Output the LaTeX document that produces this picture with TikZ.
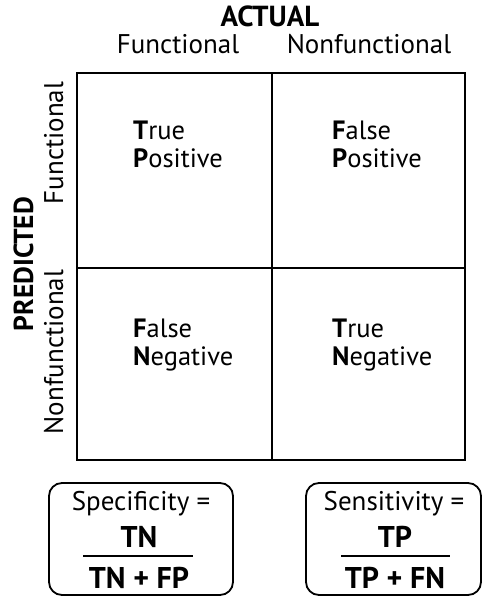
\documentclass[tikz,border=0pt]{standalone}
\usepackage{fontspec}
\setmainfont{PT Sans}
\begin{document}
\begin{tikzpicture}[x=1pt,y=-1pt,
  lbl/.style={inner sep=0pt,font=\fontsize{27}{28}\selectfont},
  bfl/.style={inner sep=0pt,font=\fontsize{30}{30}\selectfont\bfseries},
  cell/.style={inner sep=0pt,align=left,anchor=base west,font=\fontsize{26.5}{28}\selectfont},
  grid/.style={line width=2.4pt},
  fbox/.style={draw,line width=1.8pt,rounded corners=13pt}]
\useasboundingbox (0,0) rectangle (483,597);
% grid
\coordinate (g1) at (77,73);
\coordinate (g2) at (465,460);
\draw[grid] (g1) rectangle (g2);
\coordinate (vt) at (272,73); \coordinate (vb) at (272,460);
\coordinate (hl) at (77,268); \coordinate (hr) at (465,268);
\draw[grid] (vt) -- (vb);
\draw[grid] (hl) -- (hr);
% headings
\node[lbl,anchor=base,font=\fontsize{29}{30}\selectfont\bfseries] (actual) at (270,27) {ACTUAL};
\node[lbl,anchor=base] (hf) at (178,53) {Functional};
\node[lbl,anchor=base] (hn) at (369,53) {Nonfunctional};
\node[lbl,anchor=base,rotate=90,font=\fontsize{27.5}{28}\selectfont\bfseries] (pred) at (33,264) {PREDICTED};
\node[lbl,anchor=base,rotate=90] (vf) at (63,143) {Functional};
\node[lbl,anchor=base,rotate=90] (vn) at (63,352) {Nonfunctional};
% cells
\node[cell] (tp) at (133,167) {\textbf{T}rue\\\textbf{P}ositive};
\node[cell] (fp) at (332,167) {\textbf{F}alse\\\textbf{P}ositive};
\node[cell] (fn) at (133,365) {\textbf{F}alse\\\textbf{N}egative};
\node[cell] (tn) at (332,365) {\textbf{T}rue\\\textbf{N}egative};
% formula boxes
\draw[fbox] (49,483) rectangle (233,595);
\draw[fbox] (306,483) rectangle (481,595);
\node[lbl,anchor=base] (spec) at (141,510) {Specificity =};
\node[bfl,anchor=base] (specn) at (139,547) {TN};
\node[bfl,anchor=base] (specd) at (139,588) {TN + FP};
\coordinate (sb1) at (83,556); \coordinate (sb2) at (193,556);
\draw[line width=1.8pt] (sb1) -- (sb2);
\node[lbl,anchor=base] (sens) at (394,510) {Sensitivity =};
\node[bfl,anchor=base] (sensn) at (395,547) {TP};
\node[bfl,anchor=base] (sensd) at (395,588) {TP + FN};
\coordinate (tb1) at (341,556); \coordinate (tb2) at (450,556);
\draw[line width=1.8pt] (tb1) -- (tb2);
\end{tikzpicture}
\end{document}
